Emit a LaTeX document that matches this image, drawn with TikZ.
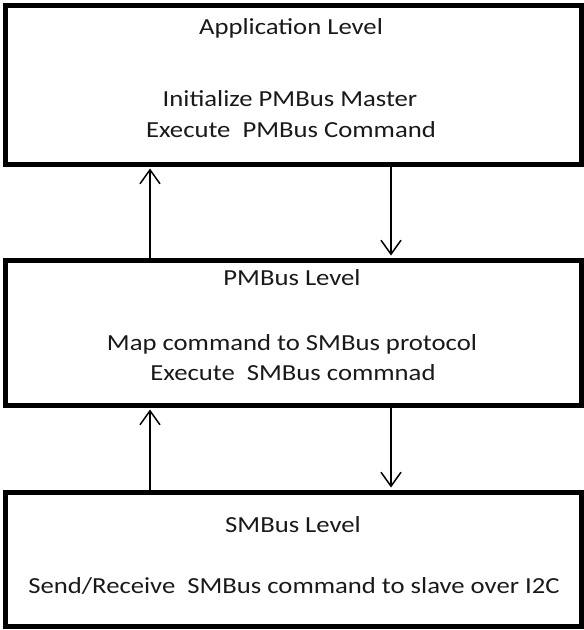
\documentclass[tikz,border=0pt]{standalone}
\usepackage{fontspec}
\setmainfont{Carlito}[FakeStretch=1.16]
\usetikzlibrary{arrows.meta}
\begin{document}
\begin{tikzpicture}[x=1pt,y=-1pt,
  levelbox/.style={draw=black, line width=5pt, minimum width=576pt, inner sep=0pt},
  label/.style={font=\fontsize{23}{28}\selectfont, text=black!90, inner sep=0pt, anchor=center,
                text height=0.62em, text depth=0.14em},
  flow/.style={line width=1.5pt, -{Straight Barb[length=14pt,width=20pt,line width=1.5pt]}, shorten >=2pt}]
  % canvas
  \useasboundingbox (0,0) rectangle (584,630);

  % the three levels
  \node[levelbox, minimum height=159pt] (app) at (293,84.5) {};
  \node[levelbox, minimum height=145pt] (pmb) at (293,332.5) {};
  \node[levelbox, minimum height=134pt] (smb) at (293,559) {};

  % application level
  \node[label] (appT) at (291,32) {Application Level};
  \node[label] (appA) at (290,104) {Initialize PMBus Master};
  \node[label] (appB) at (291,135) {Execute\ \ PMBus Command};

  % PMBus level
  \node[label] (pmbT) at (292,283) {PMBus Level};
  \node[label] (pmbA) at (292,348) {Map command to SMBus protocol};
  \node[label] (pmbB) at (293,378) {Execute\ \ SMBus commnad};

  % SMBus level
  \node[label] (smbT) at (293,530) {SMBus Level};
  \node[label] (smbA) at (294,591) {Send/Receive\ \ SMBus command to slave over I2C};

  % connectors between levels
  \coordinate (upx) at (150,0);
  \coordinate (dnx) at (391,0);
  \draw[flow] (pmb.north -| upx) -- (app.south -| upx);
  \draw[flow] (app.south -| dnx) -- (pmb.north -| dnx);
  \draw[flow] (smb.north -| upx) -- (pmb.south -| upx);
  \draw[flow] (pmb.south -| dnx) -- (smb.north -| dnx);
\end{tikzpicture}
\end{document}
